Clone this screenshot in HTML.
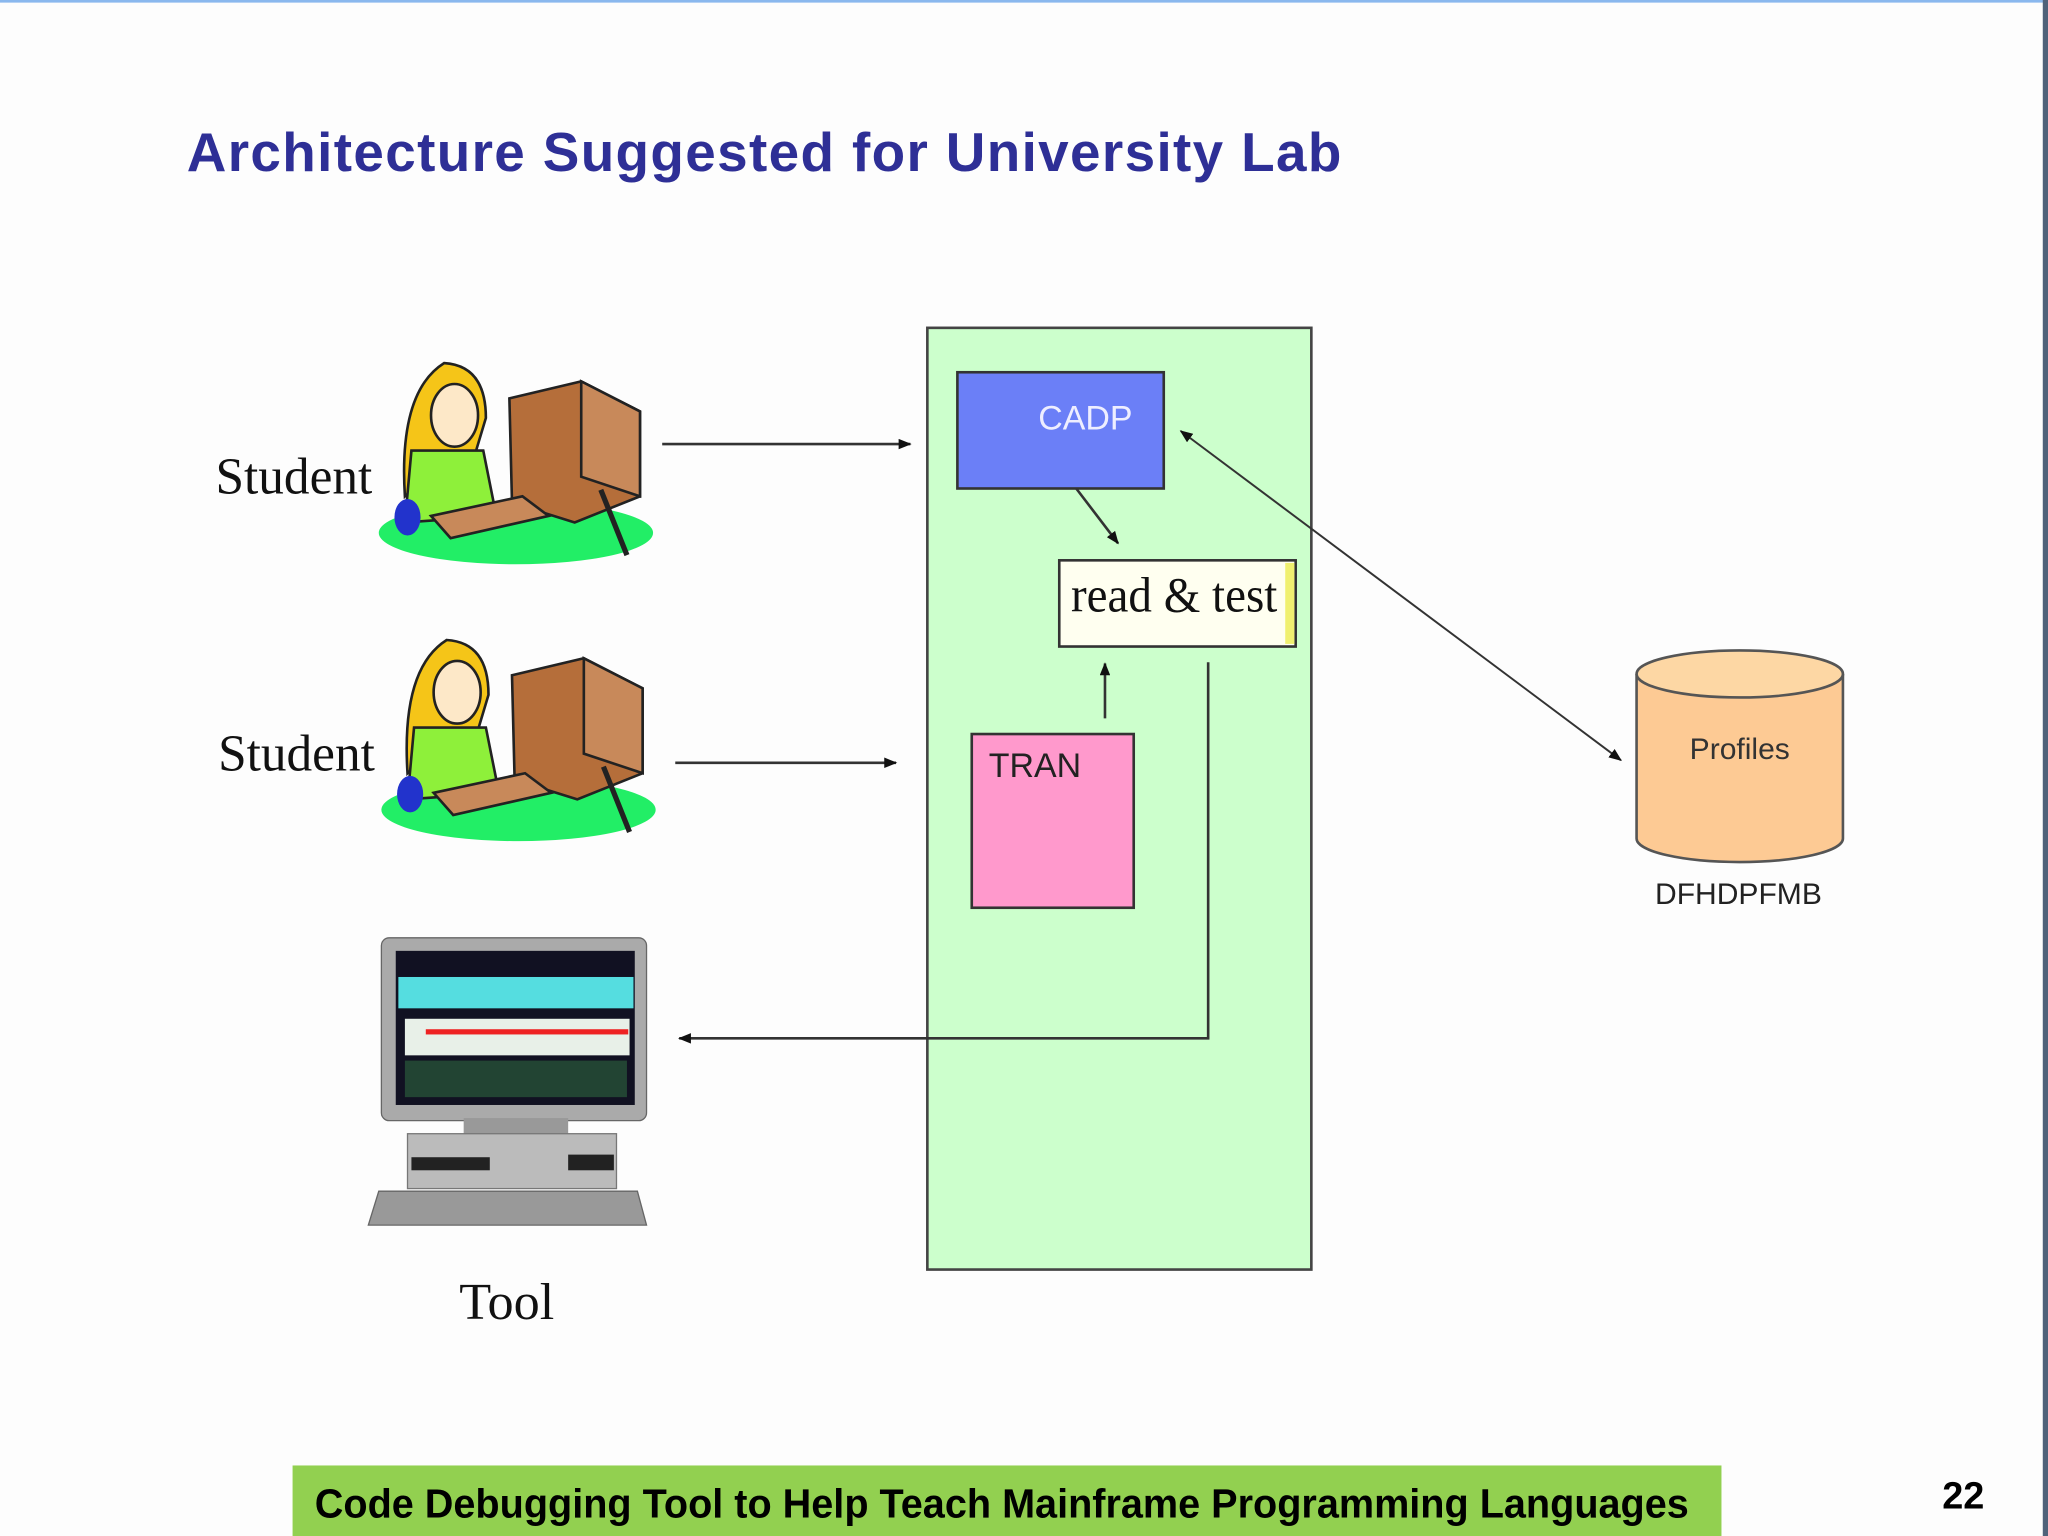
<!DOCTYPE html>
<html><head><style>
html,body{margin:0;padding:0;background:#fff;}
svg{display:block;}
</style></head><body>
<svg width="2048" height="1536" viewBox="0 0 1568 1176" xmlns="http://www.w3.org/2000/svg" preserveAspectRatio="none">
<defs>
<marker id="ar" markerWidth="10" markerHeight="8" refX="9" refY="4" orient="auto" markerUnits="userSpaceOnUse"><path d="M0,0 L10,4 L0,8 z" fill="#111"/></marker>
<marker id="as" markerWidth="10" markerHeight="8" refX="1" refY="4" orient="auto" markerUnits="userSpaceOnUse"><path d="M10,0 L0,4 L10,8 z" fill="#111"/></marker>
</defs>
<rect width="1568" height="1176" fill="#fdfdfd"/>
<rect x="0" y="0" width="1568" height="2" fill="#8ab8ee"/>
<rect x="1564" y="0" width="4" height="1176" fill="#50627a"/>
<text x="143" y="131" font-family="Liberation Sans, sans-serif" font-weight="bold" font-size="42" fill="#2e2f96" textLength="884" lengthAdjust="spacing">Architecture Suggested  for University Lab</text>

<rect x="710" y="251" width="294" height="721" fill="#ccffcc" stroke="#444" stroke-width="2"/>
<rect x="733" y="285" width="158" height="89" fill="#6b7ff7" stroke="#333" stroke-width="2"/>
<text x="831" y="329" font-family="Liberation Sans, sans-serif" font-size="26" fill="#eef" text-anchor="middle">CADP</text>
<rect x="811" y="429" width="181" height="66" fill="#fffff0" stroke="#333" stroke-width="2"/>
<rect x="984" y="431" width="7" height="62" fill="#f0f070"/>
<text x="820" y="468" font-family="Liberation Serif, serif" font-size="38" fill="#111" textLength="158" lengthAdjust="spacingAndGlyphs">read &amp; test</text>
<rect x="744" y="562" width="124" height="133" fill="#ff99cc" stroke="#333" stroke-width="2"/>
<text x="757" y="595" font-family="Liberation Sans, sans-serif" font-size="26" fill="#222">TRAN</text>

<line x1="507" y1="340" x2="697" y2="340" stroke="#333" stroke-width="2" marker-end="url(#ar)"/>
<line x1="517" y1="584" x2="686" y2="584" stroke="#333" stroke-width="2" marker-end="url(#ar)"/>
<line x1="824" y1="374" x2="856" y2="416" stroke="#333" stroke-width="2" marker-end="url(#ar)"/>
<line x1="846" y1="550" x2="846" y2="508" stroke="#333" stroke-width="2" marker-end="url(#ar)"/>
<polyline points="925,507 925,795 520,795" fill="none" stroke="#333" stroke-width="2" marker-end="url(#ar)"/>
<line x1="904" y1="330" x2="1241" y2="582" stroke="#333" stroke-width="1.5" marker-end="url(#ar)" marker-start="url(#as)"/>

<path d="M1253,516 L1253,642 A79,18 0 0 0 1411,642 L1411,516" fill="#fdca94" stroke="#555" stroke-width="2"/>
<ellipse cx="1332" cy="516" rx="79" ry="18" fill="#fdd7a4" stroke="#555" stroke-width="2"/>
<text x="1332" y="581" font-family="Liberation Sans, sans-serif" font-size="23" fill="#333" text-anchor="middle">Profiles</text>
<text x="1331" y="692" font-family="Liberation Sans, sans-serif" font-size="23" fill="#222" text-anchor="middle">DFHDPFMB</text>

<g id="st">
<text x="165" y="378" font-family="Liberation Serif, serif" font-size="40" fill="#111" textLength="120" lengthAdjust="spacingAndGlyphs">Student</text>
<ellipse cx="395" cy="408" rx="105" ry="24" fill="#22ee66"/>
<path d="M310,380 Q305,300 340,278 Q372,280 372,320 L360,360 Q320,370 310,380z" fill="#f5c518" stroke="#222" stroke-width="2"/>
<ellipse cx="348" cy="318" rx="18" ry="24" fill="#fde8c8" stroke="#222" stroke-width="2"/>
<path d="M315,345 L370,345 L380,395 L310,400z" fill="#8ef03a" stroke="#222" stroke-width="2"/>
<ellipse cx="312" cy="396" rx="10" ry="14" fill="#2233cc"/>
<path d="M390,305 L445,292 L490,315 L490,380 L440,400 L392,385z" fill="#b56e3a" stroke="#222" stroke-width="2"/>
<path d="M445,292 L490,315 L490,380 L445,365z" fill="#c8895a" stroke="#222" stroke-width="2"/>
<path d="M330,395 L400,380 L420,395 L345,412z" fill="#c8895a" stroke="#222" stroke-width="2"/>
<path d="M460,375 Q470,400 480,425" stroke="#222" stroke-width="4" fill="none"/>
</g>
<use href="#st" transform="translate(2,212)"/>

<rect x="292" y="718" width="203" height="140" rx="6" fill="#aaa" stroke="#666"/>
<rect x="303" y="728" width="183" height="118" fill="#112"/>
<rect x="305" y="748" width="180" height="24" fill="#55dde0"/>
<rect x="310" y="780" width="172" height="28" fill="#e8f0e8"/>
<rect x="326" y="788" width="155" height="4" fill="#e22"/>
<rect x="310" y="812" width="170" height="28" fill="#243"/>
<rect x="355" y="856" width="80" height="12" fill="#999"/>
<rect x="312" y="868" width="160" height="42" fill="#bbb" stroke="#777"/>
<rect x="315" y="886" width="60" height="10" fill="#222"/>
<rect x="435" y="884" width="35" height="12" fill="#222"/>
<path d="M290,912 L488,912 L495,938 L282,938z" fill="#999" stroke="#666"/>
<text x="388" y="1010" font-family="Liberation Serif, serif" font-size="40" fill="#111" text-anchor="middle">Tool</text>

<rect x="224" y="1122" width="1094" height="54" fill="#92d050"/>
<text x="241" y="1162" font-family="Liberation Sans, sans-serif" font-weight="bold" font-size="31" fill="#000" textLength="1052" lengthAdjust="spacingAndGlyphs">Code Debugging Tool to Help Teach Mainframe Programming Languages</text>
<text x="1487" y="1155" font-family="Liberation Sans, sans-serif" font-weight="bold" font-size="29" fill="#000">22</text>
</svg>
</body></html>
